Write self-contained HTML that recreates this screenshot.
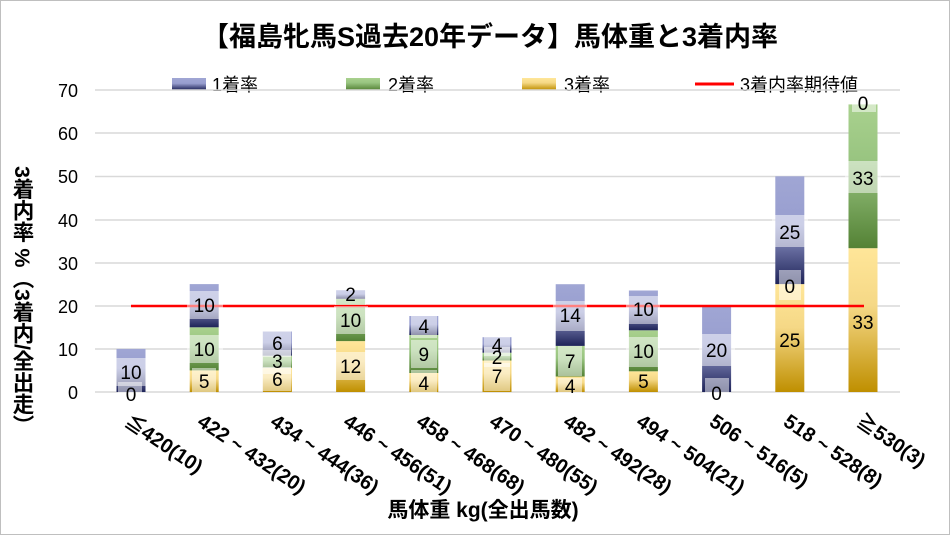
<!DOCTYPE html>
<html><head><meta charset="utf-8"><style>
html,body{margin:0;padding:0;background:#fff}
svg{display:block;font-family:"Liberation Sans","Noto Sans CJK JP",sans-serif}
</style></head><body>
<svg width="950" height="535" viewBox="0 0 950 535" xmlns="http://www.w3.org/2000/svg">
<defs>
<linearGradient id="g1" x1="0" y1="0" x2="0" y2="1"><stop offset="0" stop-color="#a0a6d4"/><stop offset="0.45" stop-color="#989ecf"/><stop offset="1" stop-color="#1e2358"/></linearGradient>
<linearGradient id="g2" x1="0" y1="0" x2="0" y2="1"><stop offset="0" stop-color="#a9d18e"/><stop offset="0.4" stop-color="#98c480"/><stop offset="1" stop-color="#548235"/></linearGradient>
<linearGradient id="g3" x1="0" y1="0" x2="0" y2="1"><stop offset="0" stop-color="#ffe699"/><stop offset="0.4" stop-color="#f5d886"/><stop offset="1" stop-color="#bf8f00"/></linearGradient>
</defs>
<rect x="0.5" y="0.5" width="949" height="534" fill="#fff" stroke="#bfbfbf"/>
<text x="490" y="46" text-anchor="middle" font-size="27" font-weight="bold" fill="#000">【福島牝馬S過去20年データ】馬体重と3着内率</text>
<!-- legend -->
<rect x="172" y="78" width="34" height="12" fill="url(#g1)"/><text x="212" y="91" font-size="18">1着率</text>
<rect x="346" y="78" width="34" height="12" fill="url(#g2)"/><text x="388" y="91" font-size="18">2着率</text>
<rect x="522" y="78" width="34" height="12" fill="url(#g3)"/><text x="564" y="91" font-size="18">3着率</text>
<line x1="695" y1="84" x2="734" y2="84" stroke="#f00" stroke-width="3"/><text x="740" y="91" font-size="18">3着内率期待値</text>
<!-- grid -->
<g stroke="#d9d9d9" stroke-width="1.5">
<line x1="95" y1="90" x2="900" y2="90"/><line x1="95" y1="133" x2="900" y2="133"/><line x1="95" y1="176.5" x2="900" y2="176.5"/><line x1="95" y1="220" x2="900" y2="220"/><line x1="95" y1="263" x2="900" y2="263"/><line x1="95" y1="306" x2="900" y2="306"/><line x1="95" y1="349" x2="900" y2="349"/><line x1="95" y1="392" x2="900" y2="392"/>
</g>
<g font-size="18" text-anchor="end">
<text x="78" y="97">70</text><text x="78" y="140">60</text><text x="78" y="183">50</text><text x="78" y="227">40</text><text x="78" y="270">30</text><text x="78" y="313">20</text><text x="78" y="356">10</text><text x="78" y="399">0</text>
</g>
<text x="22" y="166" font-size="21.5" font-weight="bold" style="writing-mode:vertical-rl">3着内率 %（3着内/全出走）</text>
<!-- bars -->
<g>
<rect x="116.5" y="348.9" width="29" height="43.1" fill="url(#g1)"/>
<rect x="189.7" y="370.4" width="29" height="21.6" fill="url(#g3)"/><rect x="189.7" y="327.3" width="29" height="43.1" fill="url(#g2)"/><rect x="189.7" y="284.1" width="29" height="43.2" fill="url(#g1)"/>
<rect x="262.9" y="367.8" width="29" height="24.2" fill="url(#g3)"/><rect x="262.9" y="355.7" width="29" height="12.1" fill="url(#g2)"/><rect x="262.9" y="331.5" width="29" height="24.2" fill="url(#g1)"/>
<rect x="336.1" y="341.1" width="29" height="50.9" fill="url(#g3)"/><rect x="336.1" y="298.8" width="29" height="42.3" fill="url(#g2)"/><rect x="336.1" y="290.2" width="29" height="8.6" fill="url(#g1)"/>
<rect x="409.3" y="373" width="29" height="19" fill="url(#g3)"/><rect x="409.3" y="335" width="29" height="38" fill="url(#g2)"/><rect x="409.3" y="316" width="29" height="19" fill="url(#g1)"/>
<rect x="482.5" y="360.5" width="29" height="31.5" fill="url(#g3)"/><rect x="482.5" y="352.7" width="29" height="7.8" fill="url(#g2)"/><rect x="482.5" y="337.2" width="29" height="15.5" fill="url(#g1)"/>
<rect x="555.7" y="376.5" width="29" height="15.5" fill="url(#g3)"/><rect x="555.7" y="345.9" width="29" height="30.6" fill="url(#g2)"/><rect x="555.7" y="284.2" width="29" height="61.7" fill="url(#g1)"/>
<rect x="628.9" y="371.3" width="29" height="20.7" fill="url(#g3)"/><rect x="628.9" y="330.3" width="29" height="41" fill="url(#g2)"/><rect x="628.9" y="290.5" width="29" height="39.8" fill="url(#g1)"/>
<rect x="702.1" y="305.7" width="29" height="86.3" fill="url(#g1)"/>
<rect x="775.3" y="284.1" width="29" height="107.9" fill="url(#g3)"/><rect x="775.3" y="176.3" width="29" height="107.8" fill="url(#g1)"/>
<rect x="848.5" y="248.2" width="29" height="143.8" fill="url(#g3)"/><rect x="848.5" y="104.4" width="29" height="143.8" fill="url(#g2)"/>
</g>
<line x1="131" y1="306" x2="864" y2="306" stroke="#f00" stroke-width="2.5"/>
<!-- labels: box + text -->
<g fill="#fff" fill-opacity="0.5">
<rect x="114" y="358" width="36" height="28"/><rect x="118" y="382" width="24" height="28"/>
<rect x="187" y="291" width="36" height="28"/><rect x="187" y="335" width="36" height="28"/><rect x="192" y="368" width="24" height="26"/>
<rect x="263" y="329" width="28" height="28"/><rect x="263" y="350" width="28" height="24"/><rect x="263" y="367" width="28" height="24"/>
<rect x="335" y="281" width="31" height="24"/><rect x="334" y="306" width="34" height="28"/><rect x="334" y="352" width="34" height="28"/>
<rect x="411" y="312" width="26" height="26"/><rect x="411" y="340" width="26" height="28"/><rect x="411" y="370" width="26" height="24"/>
<rect x="484" y="334" width="26" height="22"/><rect x="484" y="347" width="26" height="20"/><rect x="484" y="363" width="26" height="28"/>
<rect x="553" y="301" width="34" height="30"/><rect x="558" y="346" width="24" height="30"/><rect x="558" y="378" width="24" height="20"/>
<rect x="626" y="296" width="34" height="28"/><rect x="626" y="337" width="34" height="30"/>
<rect x="699" y="334" width="36" height="32"/><rect x="705" y="378" width="24" height="28"/>
<rect x="772" y="215" width="36" height="32"/><rect x="779" y="270" width="22" height="30"/>
<rect x="845" y="161" width="36" height="32"/><rect x="852" y="92" width="24" height="20"/>
</g>
<g font-size="19" text-anchor="middle" fill="#000">
<text x="131" y="379">10</text><text x="131" y="401">0</text>
<text x="204.2" y="312">10</text><text x="204.2" y="356">10</text><text x="204.2" y="388">5</text>
<text x="277.4" y="350">6</text><text x="277.4" y="368">3</text><text x="277.4" y="386">6</text>
<text x="350.6" y="301">2</text><text x="350.6" y="327">10</text><text x="350.6" y="373">12</text>
<text x="423.8" y="333">4</text><text x="423.8" y="361">9</text><text x="423.8" y="390">4</text>
<text x="497" y="352">4</text><text x="497" y="364">2</text><text x="497" y="383">7</text>
<text x="570.2" y="322">14</text><text x="570.2" y="368">7</text><text x="570.2" y="393">4</text>
<text x="643.4" y="316">10</text><text x="643.4" y="358">10</text><text x="643.4" y="388">5</text>
<text x="716.6" y="357">20</text><text x="716.6" y="400">0</text>
<text x="789.8" y="239">25</text><text x="789.8" y="293">0</text><text x="789.8" y="347">25</text>
<text x="863" y="185">33</text><text x="863" y="110">0</text><text x="863" y="329">33</text>
</g>
<!-- x labels -->
<g font-size="20" font-weight="bold">
<text x="131" y="427" transform="rotate(34 131 413)">≦420(10)</text>
<text x="204" y="427" transform="rotate(34 204 413)">422 ~ 432(20)</text>
<text x="277" y="427" transform="rotate(34 277 413)">434 ~ 444(36)</text>
<text x="350" y="427" transform="rotate(34 350 413)">446 ~ 456(51)</text>
<text x="423" y="427" transform="rotate(34 423 413)">458 ~ 468(68)</text>
<text x="496" y="427" transform="rotate(34 496 413)">470 ~ 480(55)</text>
<text x="570" y="427" transform="rotate(34 570 413)">482 ~ 492(28)</text>
<text x="643" y="427" transform="rotate(34 643 413)">494 ~ 504(21)</text>
<text x="716" y="427" transform="rotate(34 716 413)">506 ~ 516(5)</text>
<text x="790" y="427" transform="rotate(34 790 413)">518 ~ 528(8)</text>
<text x="863" y="427" transform="rotate(34 863 413)">≧530(3)</text>
</g>
<text x="483" y="517" text-anchor="middle" font-size="21" font-weight="bold">馬体重 kg(全出馬数)</text>
</svg>
</body></html>
